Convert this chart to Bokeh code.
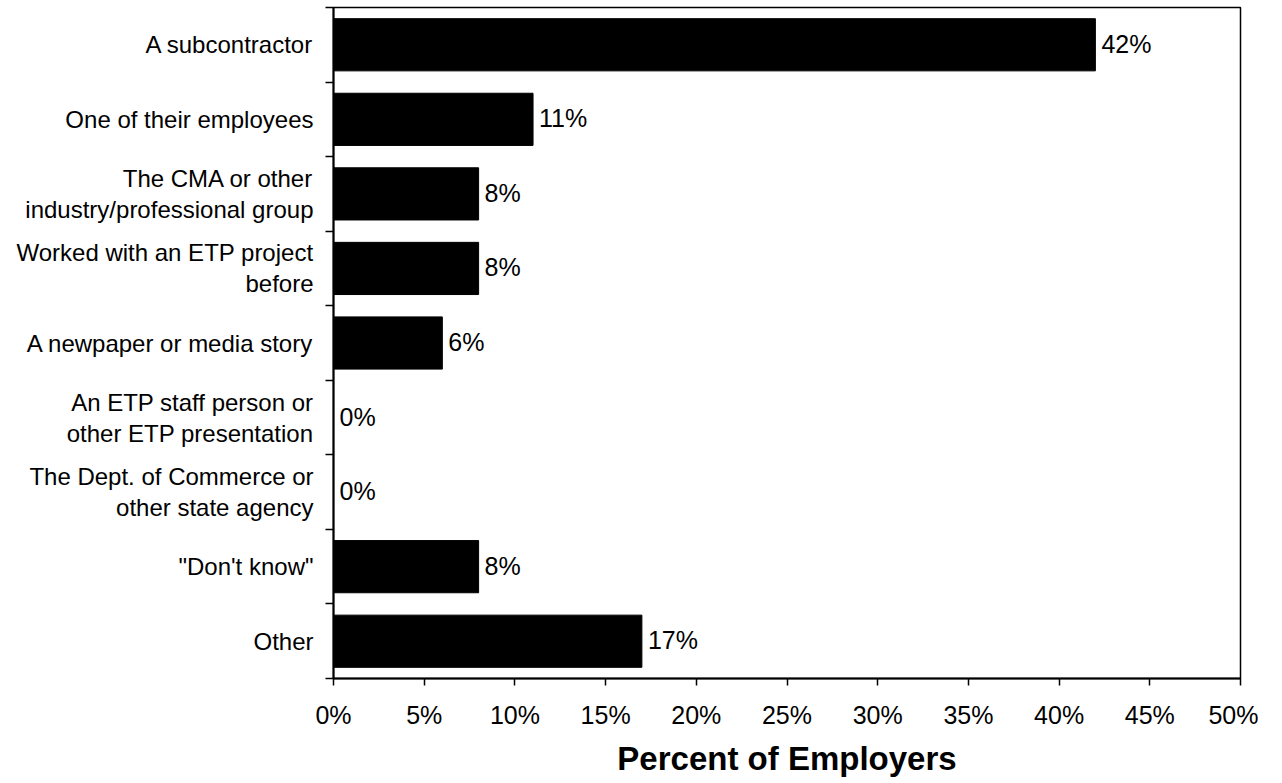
import numpy as np
from bokeh.plotting import figure
from bokeh.models import Range1d, FixedTicker, ColumnDataSource, LabelSet
from bokeh.core.properties import value
from bokeh.embed import file_html
from bokeh.resources import INLINE

categories = [
    "A subcontractor",
    "One of their employees",
    "The CMA or other\nindustry/professional group",
    "Worked with an ETP project\nbefore",
    "A newpaper or media story",
    "An ETP staff person or\nother ETP presentation",
    "The Dept. of Commerce or\nother state agency",
    "\"Don't know\"",
    "Other",
]
values = [42, 11, 8, 8, 6, 0, 0, 8, 17]
x_ticks = [0, 5, 10, 15, 20, 25, 30, 35, 40, 45, 50]
x_tick_labels = ["0%", "5%", "10%", "15%", "20%", "25%", "30%", "35%", "40%", "45%", "50%"]
x_title = "Percent of Employers"

FONT = "Liberation Sans"
n = len(categories)
ypos = np.arange(n) + 0.5
bounds = list(range(n + 1))

p = figure(width=1258, height=783, output_backend="svg", toolbar_location=None,
           x_range=Range1d(0, 50), y_range=Range1d(n, 0),
           min_border_left=333, min_border_right=18, min_border_top=7, min_border_bottom=105)
p.grid.visible = False
p.background_fill_color = "white"
p.border_fill_color = "white"
p.outline_line_color = "black"
p.outline_line_width = 1.5

src = ColumnDataSource(dict(y=ypos, v=values, lab=[f"{v}%" for v in values]))
p.hbar(y="y", left=0, right="v", height=0.7, source=src, fill_color="black", line_color="black")

p.add_layout(LabelSet(x="v", y="y", text="lab", source=src, x_offset=6, y_offset=1,
                      text_baseline="middle", text_align="left",
                      text_font=value(FONT), text_font_size="25px", text_color="black"))

xa = p.xaxis[0]
xa.ticker = FixedTicker(ticks=x_ticks)
xa.major_label_overrides = {t: l for t, l in zip(x_ticks, x_tick_labels)}
xa.major_label_text_font = FONT
xa.major_label_text_font_size = "25px"
xa.major_label_text_color = "black"
xa.major_label_standoff = 15
xa.major_tick_out = 7
xa.major_tick_in = 0
xa.minor_tick_line_color = None
xa.axis_line_width = 2
xa.axis_line_color = "black"
xa.major_tick_line_color = "black"
xa.major_tick_line_width = 1.5
xa.axis_label = x_title
xa.axis_label_text_font = FONT
xa.axis_label_text_font_style = "bold"
xa.axis_label_text_font_size = "33px"
xa.axis_label_text_color = "black"
xa.axis_label_standoff = 8

ya = p.yaxis[0]
ya.ticker = FixedTicker(ticks=list(ypos), minor_ticks=bounds)
ya.major_label_overrides = {float(y): c for y, c in zip(ypos, categories)}
ya.major_label_text_font = FONT
ya.major_label_text_font_size = "24px"
ya.major_label_text_color = "black"
ya.major_label_text_line_height = 1.15
ya.major_label_standoff = 12
ya.major_tick_out = 0
ya.major_tick_in = 0
ya.major_tick_line_color = None
ya.minor_tick_out = 8
ya.minor_tick_in = 0
ya.minor_tick_line_color = "black"
ya.minor_tick_line_width = 1.5
ya.axis_line_width = 2
ya.axis_line_color = "black"

open("out.html", "w").write(file_html(p, INLINE))
